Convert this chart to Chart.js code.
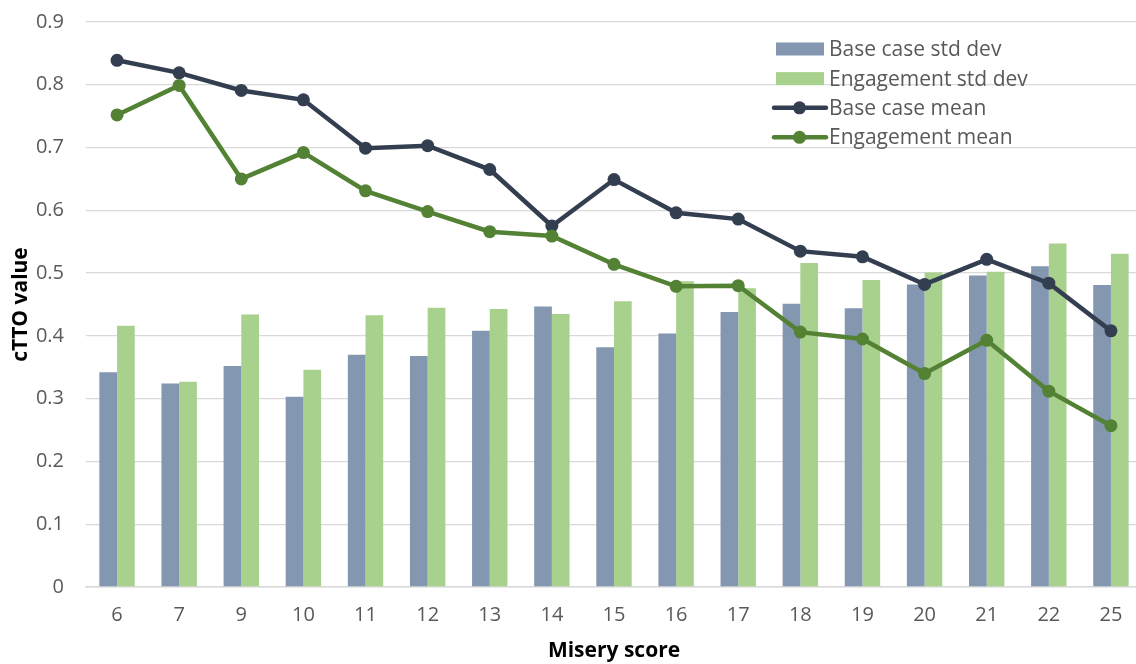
<!DOCTYPE html>
<html>
<head>
<meta charset="utf-8">
<script src="https://cdn.jsdelivr.net/npm/chart.js@4/dist/chart.umd.min.js"></script>
<style>
  html, body { margin: 0; padding: 0; background: #ffffff; overflow: hidden; }
  #wrap { width: 1136px; height: 664px; overflow: hidden; }
</style>
</head>
<body>
<div id="wrap"><canvas id="chart" width="1142" height="664"></canvas></div>
<script>
// Misery score categories
const categories = ['6', '7', '9', '10', '11', '12', '13', '14', '15', '16', '17', '18', '19', '20', '21', '22', '25'];

// Standard deviations (bars)
const baseStdDev = [0.342, 0.324, 0.352, 0.303, 0.370, 0.368, 0.408, 0.447, 0.382, 0.404, 0.438, 0.451, 0.444, 0.482, 0.496, 0.511, 0.481];
const engagementStdDev = [0.416, 0.327, 0.434, 0.346, 0.433, 0.445, 0.443, 0.435, 0.455, 0.487, 0.476, 0.516, 0.489, 0.501, 0.502, 0.547, 0.531];

// Means (lines)
const baseMean = [0.839, 0.819, 0.791, 0.776, 0.699, 0.703, 0.665, 0.575, 0.649, 0.596, 0.586, 0.535, 0.526, 0.482, 0.522, 0.484, 0.408];
const engagementMean = [0.752, 0.799, 0.650, 0.692, 0.631, 0.598, 0.566, 0.559, 0.514, 0.479, 0.480, 0.406, 0.395, 0.340, 0.393, 0.312, 0.257];

// Y axis ticks
const yTicks = [0, 0.1, 0.2, 0.3, 0.4, 0.5, 0.6, 0.7, 0.8, 0.9];

const FONT = "'Open Sans', 'Noto Sans', 'DejaVu Sans', sans-serif";
const TEXT_GREY = '#595959';

// Vertical legend drawn inside the plot area, upper right
const insideLegend = {
  id: 'insideLegend',
  afterDraw(chart) {
    const ctx = chart.ctx;
    const area = chart.chartArea;
    const ds = chart.data.datasets;
    const x0 = area.left + 690;
    const rowY = [48.7, 78.3, 107.5, 137].map(v => v - 21.7 + area.top);
    ctx.save();
    ctx.font = '21px ' + FONT;
    ctx.textBaseline = 'middle';
    ctx.textAlign = 'left';
    ds.forEach((d, i) => {
      const y = rowY[i];
      if (d.type === 'bar') {
        ctx.fillStyle = d.backgroundColor;
        ctx.fillRect(x0, y - 6.5, 48, 13);
      } else {
        ctx.strokeStyle = d.borderColor;
        ctx.lineWidth = 4.5;
        ctx.lineCap = 'round';
        ctx.beginPath();
        ctx.moveTo(x0 - 2, y);
        ctx.lineTo(x0 + 50, y);
        ctx.stroke();
        ctx.fillStyle = d.borderColor;
        ctx.beginPath();
        ctx.arc(x0 + 23.5, y, 6.5, 0, Math.PI * 2);
        ctx.fill();
      }
      ctx.fillStyle = TEXT_GREY;
      ctx.fillText(d.label, x0 + 53, y + 1);
    });
    ctx.restore();
  }
};

new Chart(document.getElementById('chart'), {
  data: {
    labels: categories,
    datasets: [
      {
        type: 'bar',
        label: 'Base case std dev',
        data: baseStdDev,
        backgroundColor: '#8497B0',
        categoryPercentage: 0.57,
        barPercentage: 1.0,
        order: 2
      },
      {
        type: 'bar',
        label: 'Engagement std dev',
        data: engagementStdDev,
        backgroundColor: '#A9D18E',
        categoryPercentage: 0.57,
        barPercentage: 1.0,
        order: 2
      },
      {
        type: 'line',
        label: 'Base case mean',
        data: baseMean,
        borderColor: '#333F50',
        backgroundColor: '#333F50',
        borderWidth: 4.5,
        pointRadius: 6.5,
        pointHoverRadius: 6.5,
        pointBackgroundColor: '#333F50',
        pointBorderWidth: 0,
        tension: 0,
        order: 1
      },
      {
        type: 'line',
        label: 'Engagement mean',
        data: engagementMean,
        borderColor: '#548235',
        backgroundColor: '#548235',
        borderWidth: 4.5,
        pointRadius: 6.5,
        pointHoverRadius: 6.5,
        pointBackgroundColor: '#548235',
        pointBorderWidth: 0,
        tension: 0,
        order: 0
      }
    ]
  },
  options: {
    responsive: false,
    animation: false,
    layout: { autoPadding: false, padding: { top: 22, right: 0, left: 0, bottom: 0 } },
    plugins: {
      legend: { display: false },
      tooltip: { enabled: false }
    },
    scales: {
      x: {
        grid: { display: false, drawTicks: false },
        border: { display: true, color: '#D9D9D9', width: 1.5 },
        ticks: {
          color: TEXT_GREY,
          font: { family: FONT, size: 20 },
          padding: 16
        },
        title: {
          display: true,
          text: 'Misery score',
          color: '#000000',
          font: { family: FONT, size: 21, weight: 'bold' },
          padding: { top: 4, bottom: 0 }
        },
        afterFit(scale) {
          scale.height = 77;
          scale.paddingLeft = 0;
          scale.paddingRight = 0;
        }
      },
      y: {
        min: 0,
        max: 0.9,
        afterBuildTicks(scale) {
          scale.ticks = yTicks.map(v => ({ value: v }));
        },
        grid: { color: '#D9D9D9', lineWidth: 1.3, drawTicks: false },
        border: { display: false },
        ticks: {
          color: TEXT_GREY,
          font: { family: FONT, size: 20 },
          padding: 22,
          callback: v => String(Math.round(v * 10) / 10)
        },
        title: {
          display: true,
          text: 'cTTO value',
          color: '#000000',
          font: { family: FONT, size: 21, weight: 'bold' },
          padding: { top: 8, bottom: 0 }
        },
        afterFit(scale) {
          scale.width = 86;
          scale.paddingTop = 0;
          scale.paddingBottom = 0;
        }
      }
    }
  },
  plugins: [insideLegend]
});
</script>
</body>
</html>
